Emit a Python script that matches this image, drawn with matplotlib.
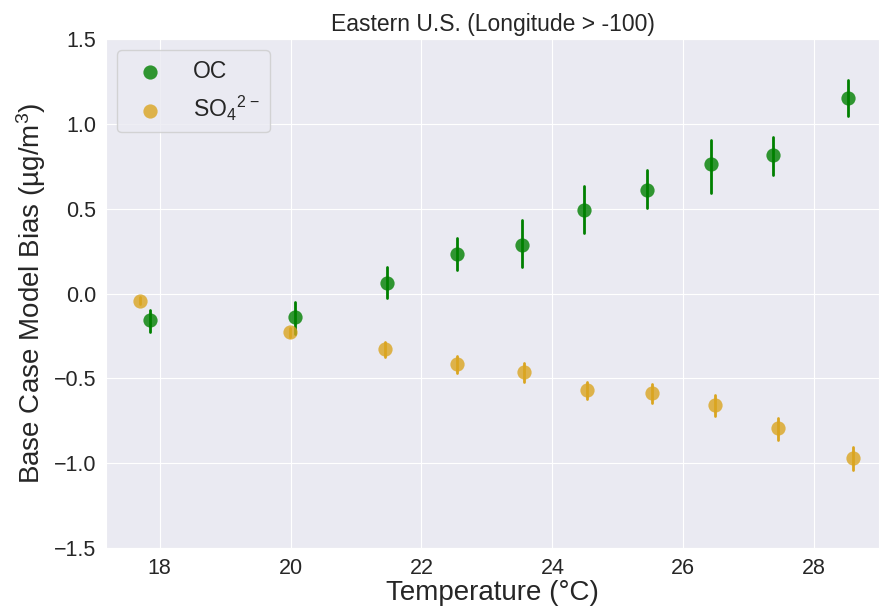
"""Temperature dependence of base case model bias for OC and sulfate."""

import matplotlib
matplotlib.use("Agg")
import matplotlib.pyplot as plt
import seaborn as sns

# binned temperature (°C), mean bias and error bar extents (µg/m3)
oc_temp = [17.85, 20.06, 21.47, 22.54, 23.53, 24.49, 25.45, 26.42, 27.37, 28.51]
oc_bias = [-0.158, -0.140, 0.064, 0.231, 0.286, 0.490, 0.612, 0.761, 0.816, 1.154]
oc_low = [-0.229, -0.240, -0.028, 0.137, 0.158, 0.358, 0.502, 0.594, 0.698, 1.048]
oc_high = [-0.098, -0.048, 0.156, 0.329, 0.433, 0.633, 0.728, 0.905, 0.920, 1.258]

so4_temp = [17.70, 19.99, 21.45, 22.55, 23.57, 24.53, 25.52, 26.49, 27.44, 28.59]
so4_bias = [-0.042, -0.229, -0.329, -0.417, -0.463, -0.567, -0.588, -0.657, -0.794, -0.971]
so4_low = [-0.062, -0.255, -0.372, -0.470, -0.520, -0.624, -0.647, -0.720, -0.863, -1.040]
so4_high = [-0.022, -0.205, -0.284, -0.368, -0.410, -0.520, -0.534, -0.598, -0.732, -0.902]

sns.set_style("darkgrid")
plt.rcParams["font.family"] = ["Liberation Sans", "DejaVu Sans"]
plt.rcParams["mathtext.fontset"] = "custom"
plt.rcParams["mathtext.rm"] = "Liberation Sans"
plt.rcParams["mathtext.it"] = "Liberation Sans:italic"


def draw_binned(ax, x, y, low, high, color, label):
    for xi, lo, hi in zip(x, low, high):
        ax.plot([xi, xi], [lo, hi], color=color, lw=2.0, zorder=2)
    ax.scatter(x, y, s=105, color=color, alpha=0.8, linewidths=0,
               label=label, zorder=3)


fig, ax = plt.subplots(figsize=(8.8, 6.08), dpi=100)
fig.subplots_adjust(left=106 / 880, right=879 / 880,
                    top=1 - 39 / 608, bottom=1 - 548 / 608)

draw_binned(ax, oc_temp, oc_bias, oc_low, oc_high, "green", "OC")
draw_binned(ax, so4_temp, so4_bias, so4_low, so4_high, "goldenrod",
            r"$\mathrm{SO_4}^{2\,-}$")

ax.set_xlim(17.18, 28.99)
ax.set_ylim(-1.5, 1.5)
ax.set_xticks([18, 20, 22, 24, 26, 28])
ax.set_yticks([-1.5, -1.0, -0.5, 0.0, 0.5, 1.0, 1.5])
ax.tick_params(labelsize=15.5, colors="#262626")

ax.set_title("Eastern U.S. (Longitude > -100)", fontsize=16.5, color="#262626")
ax.set_xlabel("Temperature (°C)", fontsize=20, color="#262626", labelpad=1)
ax.set_ylabel("Base Case Model Bias (µg/m$^3$)", fontsize=20, color="#262626")

leg = ax.legend(loc="upper left", fontsize=16.5, borderpad=0.4,
                labelspacing=0.5, handletextpad=0.9)

plt.savefig("out.png")
